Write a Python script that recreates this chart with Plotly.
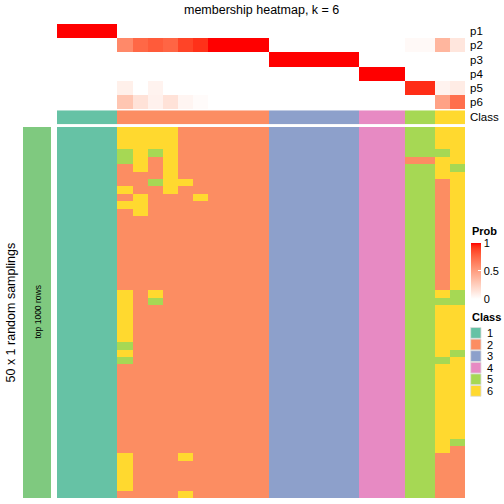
import plotly.graph_objects as go

W = H = 504

# ---------------- data ----------------
prob_rows = ["p1", "p2", "p3", "p4", "p5", "p6"]
n_cols = 27
p1 = [1, 1, 1, 1] + [0] * 23
p2 = [0, 0, 0, 0, 0.6, 0.75, 0.8, 0.76, 0.88, 0.93, 1, 1, 1, 1] + [0] * 9 + [0.03, 0.03, 0.38, 0.13]
p3 = [0] * 14 + [1] * 6 + [0] * 7
p4 = [0] * 20 + [1] * 3 + [0] * 4
p5 = [0, 0, 0, 0, 0.08, 0, 0.06, 0, 0, 0, 0, 0, 0, 0] + [0] * 9 + [0.94, 0.94, 0.06, 0.1]
p6 = [0, 0, 0, 0, 0.3, 0.15, 0.07, 0.15, 0.05, 0.02, 0, 0, 0, 0] + [0] * 9 + [0, 0, 0.48, 0.72]
prob_matrix = [p1, p2, p3, p4, p5, p6]

column_class = [1] * 4 + [2] * 10 + [3] * 6 + [4] * 3 + [5] * 2 + [6] * 2

membership_rows = [
    "111166662222223333334445566",
    "111166662222223333334445566",
    "111166662222223333334445566",
    "111156562222223333334445556",
    "111156262222223333334442266",
    "111126262222223333334445565",
    "111122262222223333334445566",
    "111122566222223333334445526",
    "111162262222223333334445526",
    "111126222622223333334445526",
    "111166222222223333334445526",
    "111126222222223333334445526",
    "111122222222223333334445526",
    "111122222222223333334445526",
    "111122222222223333334445526",
    "111122222222223333334445526",
    "111122222222223333334445526",
    "111122222222223333334445526",
    "111122222222223333334445526",
    "111122222222223333334445526",
    "111122222222223333334445526",
    "111122222222223333334445526",
    "111162622222223333334445565",
    "111162522222223333334445555",
    "111162222222223333334445566",
    "111162222222223333334445566",
    "111162222222223333334445566",
    "111162222222223333334445566",
    "111162222222223333334445566",
    "111152222222223333334445566",
    "111162222222223333334445565",
    "111152222222223333334445556",
    "111122222222223333334445566",
    "111122222222223333334445566",
    "111122222222223333334445566",
    "111122222222223333334445566",
    "111122222222223333334445566",
    "111122222222223333334445566",
    "111122222222223333334445566",
    "111122222222223333334445566",
    "111122222222223333334445566",
    "111122222222223333334445566",
    "111122222222223333334445565",
    "111122222222223333334445562",
    "111162226222223333334445522",
    "111162222222223333334445522",
    "111162222222223333334445522",
    "111162222222223333334445522",
    "111162222222223333334445522",
    "111122226222223333334445522",
]
membership = [[int(c) for c in row] for row in membership_rows]

class_labels = ["1", "2", "3", "4", "5", "6"]
class_colors = ["#66C2A5", "#FC8D62", "#8DA0CB", "#E78AC3", "#A6D854", "#FFD92F"]
prob_ticks = [0, 0.5, 1]

title = "membership heatmap, k = 6"
left_title = "50 x 1 random samplings"
left_bar_label = "top 1000 rows"
left_bar_color = "#7FC97F"

FONT = "Liberation Sans, Arial, sans-serif"


# ---------------- colour helpers ----------------
def srgb_to_lin(c):
    c = c / 255
    return c / 12.92 if c <= 0.04045 else ((c + 0.055) / 1.055) ** 2.4


def lin_to_srgb(c):
    c = max(0.0, min(1.0, c))
    v = 12.92 * c if c <= 0.0031308 else 1.055 * c ** (1 / 2.4) - 0.055
    return int(round(v * 255))


def rgb_to_lab(r, g, b):
    R, G, B = srgb_to_lin(r), srgb_to_lin(g), srgb_to_lin(b)
    X = (0.4124 * R + 0.3576 * G + 0.1805 * B) / 0.95047
    Y = 0.2126 * R + 0.7152 * G + 0.0722 * B
    Z = (0.0193 * R + 0.1192 * G + 0.9505 * B) / 1.08883

    def f(t):
        return t ** (1 / 3) if t > 0.008856 else 7.787 * t + 16 / 116

    fx, fy, fz = f(X), f(Y), f(Z)
    return 116 * fy - 16, 500 * (fx - fy), 200 * (fy - fz)


def lab_to_rgb(L, a, b):
    fy = (L + 16) / 116
    fx = fy + a / 500
    fz = fy - b / 200

    def finv(t):
        return t ** 3 if t ** 3 > 0.008856 else (t - 16 / 116) / 7.787

    X, Y, Z = 0.95047 * finv(fx), finv(fy), 1.08883 * finv(fz)
    R = 3.2406 * X - 1.5372 * Y - 0.4986 * Z
    G = -0.9689 * X + 1.8758 * Y + 0.0415 * Z
    B = 0.0557 * X - 0.2040 * Y + 1.0570 * Z
    return lin_to_srgb(R), lin_to_srgb(G), lin_to_srgb(B)


w_lab = rgb_to_lab(255, 255, 255)
r_lab = rgb_to_lab(255, 0, 0)
prob_scale = []
for i in range(21):
    t = i / 20
    lab = [w_lab[k] + (r_lab[k] - w_lab[k]) * t for k in range(3)]
    r, g, b = lab_to_rgb(*lab)
    prob_scale.append([t, f"rgb({r},{g},{b})"])

n_cls = len(class_colors)
class_scale = []
for i, c in enumerate(class_colors):
    class_scale.append([i / n_cls, c])
    class_scale.append([(i + 1) / n_cls, c])


def px_x(p):
    return p / W


def px_y(p):
    return 1 - p / H


# ---------------- layout geometry (pixels) ----------------
HM_L, HM_R = 57, 465
PROB_T, PROB_B = 24, 109.3
CLS_T, CLS_B = 110.3, 124.3
MAIN_T, MAIN_B = 127, 498
BAR_L, BAR_R = 23, 51

fig = go.Figure()

cols = list(range(n_cols))

# probability heatmap
fig.add_trace(go.Heatmap(
    z=prob_matrix, x=cols, y=list(range(len(prob_rows))),
    colorscale=prob_scale, zmin=0, zmax=1,
    xaxis="x", yaxis="y", hoverinfo="z",
    colorbar=dict(
        x=px_x(470.7), xanchor="left", xpad=0,
        y=px_y(242.7), yanchor="top", ypad=0,
        len=55.6, lenmode="pixels", thickness=10, thicknessmode="pixels",
        outlinewidth=0, tickvals=prob_ticks, ticktext=[str(t) for t in prob_ticks],
        ticks="inside", ticklen=3, tickcolor="white",
        tickfont=dict(family=FONT, size=11, color="black"),
    ),
))

# class annotation row
fig.add_trace(go.Heatmap(
    z=[column_class], x=cols, y=[0],
    colorscale=class_scale, zmin=0.5, zmax=n_cls + 0.5, showscale=False,
    xaxis="x2", yaxis="y2", hoverinfo="z",
))

# main membership heatmap
fig.add_trace(go.Heatmap(
    z=membership, x=cols, y=list(range(len(membership))),
    colorscale=class_scale, zmin=0.5, zmax=n_cls + 0.5, showscale=False,
    xaxis="x3", yaxis="y3", hoverinfo="z",
))

# left bar
fig.add_trace(go.Heatmap(
    z=[[1]], x=[0], y=[0],
    colorscale=[[0, left_bar_color], [1, left_bar_color]], showscale=False,
    xaxis="x4", yaxis="y4", hoverinfo="skip",
))

ax_common = dict(showgrid=False, zeroline=False, showticklabels=False, ticks="", showline=False)
fig.update_layout(
    width=W, height=H,
    margin=dict(l=0, r=0, t=0, b=0),
    paper_bgcolor="white", plot_bgcolor="white",
    font=dict(family=FONT, color="black"),
    xaxis=dict(domain=[px_x(HM_L), px_x(HM_R)], anchor="y", range=[-0.5, n_cols - 0.5], **ax_common),
    yaxis=dict(domain=[px_y(PROB_B), px_y(PROB_T)], anchor="x", range=[len(prob_rows) - 0.5, -0.5], **ax_common),
    xaxis2=dict(domain=[px_x(HM_L), px_x(HM_R)], anchor="y2", range=[-0.5, n_cols - 0.5], **ax_common),
    yaxis2=dict(domain=[px_y(CLS_B), px_y(CLS_T)], anchor="x2", range=[-0.5, 0.5], **ax_common),
    xaxis3=dict(domain=[px_x(HM_L), px_x(HM_R)], anchor="y3", range=[-0.5, n_cols - 0.5], **ax_common),
    yaxis3=dict(domain=[px_y(MAIN_B), px_y(MAIN_T)], anchor="x3", range=[len(membership) - 0.5, -0.5], **ax_common),
    xaxis4=dict(domain=[px_x(BAR_L), px_x(BAR_R)], anchor="y4", range=[-0.5, 0.5], **ax_common),
    yaxis4=dict(domain=[px_y(MAIN_B), px_y(MAIN_T)], anchor="x4", range=[-0.5, 0.5], **ax_common),
    showlegend=False,
)

annotations = []
annotations.append(dict(text=title, x=px_x((HM_L + HM_R) / 2), y=px_y(10), xref="paper", yref="paper",
                        showarrow=False, xanchor="center", yanchor="middle",
                        font=dict(size=12.5, family=FONT)))
row_h = (PROB_B - PROB_T) / len(prob_rows)
for i, lab in enumerate(prob_rows):
    annotations.append(dict(text=lab, x=px_x(468), y=px_y(PROB_T + row_h * (i + 0.5)), xref="paper", yref="paper",
                            showarrow=False, xanchor="left", yanchor="middle", font=dict(size=11.5)))
annotations.append(dict(text="Class", x=px_x(468), y=px_y((CLS_T + CLS_B) / 2), xref="paper", yref="paper",
                        showarrow=False, xanchor="left", yanchor="middle", font=dict(size=11.5)))
annotations.append(dict(text=left_title, x=px_x(10), y=px_y((MAIN_T + MAIN_B) / 2), xref="paper", yref="paper",
                        showarrow=False, textangle=-90, xanchor="center", yanchor="middle", font=dict(size=12.5)))
annotations.append(dict(text=left_bar_label, x=px_x((BAR_L + BAR_R) / 2), y=px_y((MAIN_T + MAIN_B) / 2),
                        xref="paper", yref="paper", showarrow=False, textangle=-90,
                        xanchor="center", yanchor="middle", font=dict(size=8.5)))
annotations.append(dict(text="<b>Prob</b>", x=px_x(470), y=px_y(231.5), xref="paper", yref="paper",
                        showarrow=False, xanchor="left", yanchor="middle", font=dict(size=11)))
annotations.append(dict(text="<b>Class</b>", x=px_x(470), y=px_y(317), xref="paper", yref="paper",
                        showarrow=False, xanchor="left", yanchor="middle", font=dict(size=11)))

shapes = []
leg_top, leg_step, leg_h = 327.5, 11.6, 10.8
for i, (lab, col) in enumerate(zip(class_labels, class_colors)):
    y0 = leg_top + i * leg_step
    shapes.append(dict(type="rect", xref="paper", yref="paper",
                       x0=px_x(470.7), x1=px_x(481), y0=px_y(y0), y1=px_y(y0 + leg_h),
                       fillcolor=col, line=dict(color="#DDDDDD", width=0.8)))
    annotations.append(dict(text=lab, x=px_x(485), y=px_y(y0 + leg_h / 2), xref="paper", yref="paper",
                            showarrow=False, xanchor="left", yanchor="middle", font=dict(size=11)))

fig.update_layout(annotations=annotations, shapes=shapes)

fig.write_html(
    "out.html",
    config={"displayModeBar": False},
    post_script="document.body.style.margin='0';document.body.style.overflow='hidden';",
)
